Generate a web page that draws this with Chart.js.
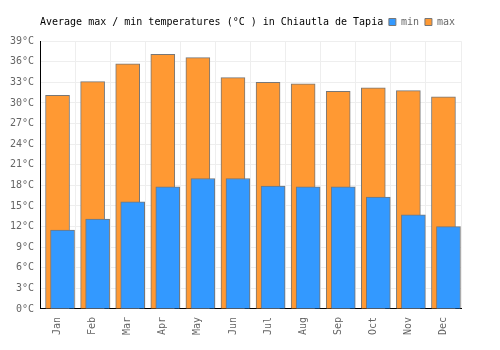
<!DOCTYPE html>
<html>
<head>
<meta charset="utf-8">
<script src="https://cdn.jsdelivr.net/npm/chart.js@4"></script>
<style>
  html, body { margin: 0; padding: 0; background: #fff; }
  #wrap { width: 500px; height: 350px; }
</style>
</head>
<body>
<div id="wrap"><canvas id="tempChart" width="500" height="350"></canvas></div>
<script>
const months = ['Jan', 'Feb', 'Mar', 'Apr', 'May', 'Jun', 'Jul', 'Aug', 'Sep', 'Oct', 'Nov', 'Dec'];
const minTemps = [11.5, 13.1, 15.6, 17.8, 19.0, 19.0, 17.9, 17.8, 17.8, 16.3, 13.7, 12.0];
const maxTemps = [31.1, 33.1, 35.7, 37.1, 36.6, 33.7, 33.0, 32.8, 31.7, 32.2, 31.8, 30.9];
const chartTitle = 'Average max / min temperatures (°C ) in Chiautla de Tapia';

const monoFont = { family: '"DejaVu Sans Mono", monospace', size: 10 };

// min bars sit a little to the right of the max bars
const shiftMin = {
    id: 'shiftMin',
    beforeDatasetDraw(chart, args) {
        if (args.index === 0) {
            chart.ctx.save();
            chart.ctx.translate(5, 0);
        }
    },
    afterDatasetDraw(chart, args) {
        if (args.index === 0) chart.ctx.restore();
    }
};

// title shares the row with the legend
const inlineTitle = {
    id: 'inlineTitle',
    afterDraw(chart) {
        const legend = chart.legend;
        const ctx = chart.ctx;
        ctx.save();
        ctx.font = `${monoFont.size}px ${monoFont.family}`;
        ctx.fillStyle = '#000';
        ctx.textBaseline = 'middle';
        ctx.textAlign = 'left';
        const y = legend.legendHitBoxes.length ? legend.legendHitBoxes[0].top + legend.legendHitBoxes[0].height / 2 : 21;
        ctx.fillText(chartTitle, 40, y);
        ctx.restore();
    }
};

new Chart(document.getElementById('tempChart').getContext('2d'), {
    type: 'bar',
    data: {
        labels: months,
        datasets: [
            {
                label: 'min',
                data: minTemps,
                backgroundColor: '#3399ff',
                borderColor: '#777',
                borderWidth: 1,
                grouped: false,
                barThickness: 24
            },
            {
                label: 'max',
                data: maxTemps,
                backgroundColor: '#ff9933',
                borderColor: '#777',
                borderWidth: 1,
                grouped: false,
                barThickness: 24
            }
        ]
    },
    options: {
        responsive: false,
        animation: false,
        layout: { padding: { top: 11, right: 39, left: 0, bottom: 7 } },
        plugins: {
            // empty spacer between the legend row and the plot
            title: { display: true, text: '', weight: 500, font: { size: 1 }, padding: { top: 0, bottom: 3 } },
            tooltip: { enabled: false },
            legend: {
                position: 'top',
                align: 'end',
                labels: {
                    font: monoFont,
                    color: '#666',
                    boxWidth: 7,
                    boxHeight: 7,
                    padding: 6
                }
            }
        },
        scales: {
            x: {
                grid: { color: '#eee', offset: true, drawTicks: false },
                border: { color: '#000', width: 1 },
                ticks: {
                    font: monoFont,
                    color: '#666',
                    maxRotation: 90,
                    minRotation: 90,
                    padding: 8
                }
            },
            y: {
                min: 0,
                max: 39,
                afterFit(scale) { scale.width = 40; },
                grid: { color: '#eee', drawTicks: false },
                border: { color: '#000', width: 1 },
                ticks: {
                    stepSize: 3,
                    font: monoFont,
                    color: '#666',
                    padding: 6,
                    callback: v => v + '°C'
                }
            }
        }
    },
    plugins: [shiftMin, inlineTitle]
});
</script>
</body>
</html>
